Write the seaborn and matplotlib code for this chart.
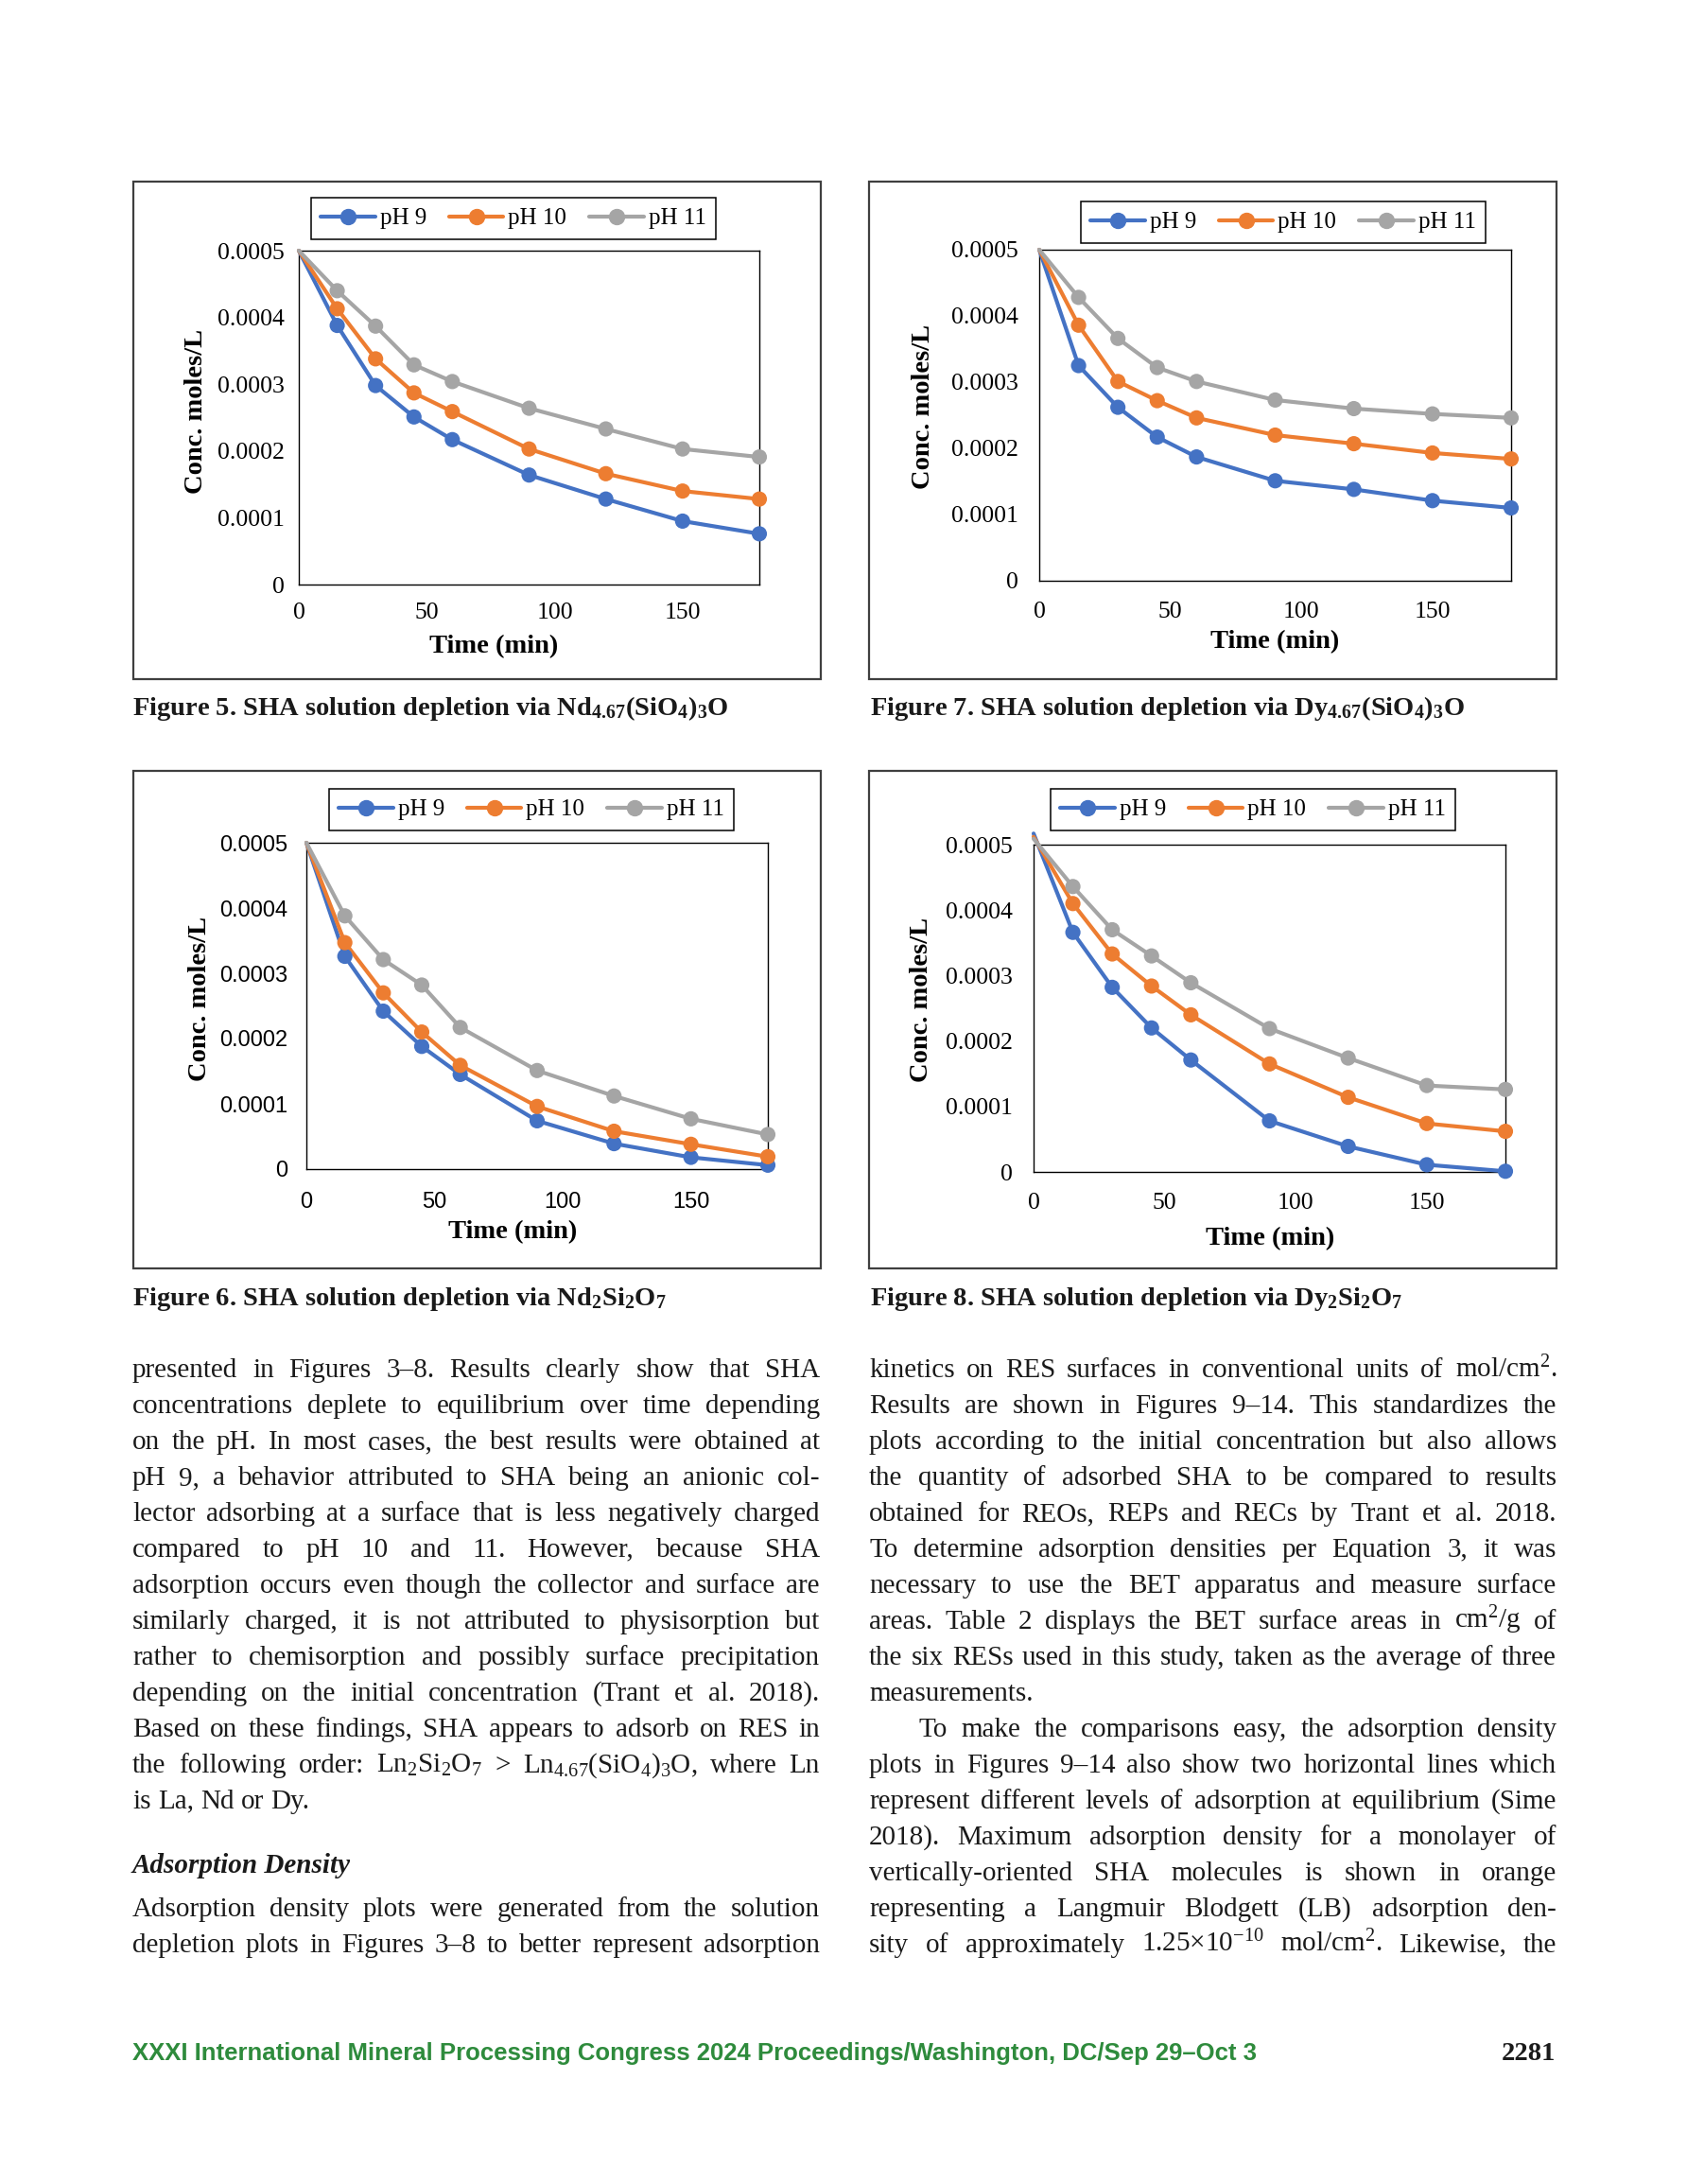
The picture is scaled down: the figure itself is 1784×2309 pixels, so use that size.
import numpy as np
import pandas as pd
import seaborn as sns
import matplotlib.pyplot as plt
from matplotlib.patches import Rectangle
from matplotlib.lines import Line2D

sns.set_theme(style='white')
plt.rcParams['font.family'] = ['Liberation Serif', 'DejaVu Serif']
plt.rcParams['mathtext.fontset'] = 'custom'
plt.rcParams['mathtext.rm'] = 'Liberation Serif'
plt.rcParams['mathtext.it'] = 'Liberation Serif:italic'
plt.rcParams['mathtext.bf'] = 'Liberation Serif:bold'

# ---- data ----
time_min = [0, 15, 30, 45, 60, 90, 120, 150, 180]
ph_labels = ['pH 9', 'pH 10', 'pH 11']
ph_colors = ['#4472C4', '#ED7D31', '#A5A5A5']

# Figure 5 - Nd4.67(SiO4)3O
fig5_ph9 = [0.0005, 0.000388, 0.000298, 0.000251, 0.000217, 0.000164, 0.000128, 0.000095, 0.000076]
fig5_ph10 = [0.0005, 0.000413, 0.000338, 0.000287, 0.000259, 0.000203, 0.000166, 0.000140, 0.000128]
fig5_ph11 = [0.0005, 0.000440, 0.000387, 0.000329, 0.000304, 0.000264, 0.000233, 0.000203, 0.000191]

# Figure 7 - Dy4.67(SiO4)3O
fig7_ph9 = [0.0005, 0.000325, 0.000262, 0.000217, 0.000187, 0.000151, 0.000138, 0.000121, 0.000110]
fig7_ph10 = [0.0005, 0.000386, 0.000301, 0.000272, 0.000246, 0.000220, 0.000207, 0.000193, 0.000184]
fig7_ph11 = [0.0005, 0.000428, 0.000366, 0.000322, 0.000301, 0.000273, 0.000260, 0.000252, 0.000246]

# Figure 6 - Nd2Si2O7
fig6_ph9 = [0.0005, 0.000326, 0.000242, 0.000188, 0.000145, 0.000074, 0.000039, 0.000018, 0.000006]
fig6_ph10 = [0.0005, 0.000347, 0.000270, 0.000210, 0.000159, 0.000096, 0.000058, 0.000038, 0.000019]
fig6_ph11 = [0.0005, 0.000388, 0.000321, 0.000282, 0.000217, 0.000151, 0.000112, 0.000077, 0.000053]

# Figure 8 - Dy2Si2O7
fig8_ph9 = [0.000517, 0.000366, 0.000282, 0.000220, 0.000171, 0.000078, 0.000039, 0.000011, 0.000001]
fig8_ph10 = [0.000512, 0.000410, 0.000333, 0.000284, 0.000240, 0.000165, 0.000114, 0.000074, 0.000062]
fig8_ph11 = [0.000509, 0.000436, 0.000370, 0.000330, 0.000289, 0.000219, 0.000174, 0.000132, 0.000126]

x_ticks = [0, 50, 100, 150]
y_ticks = [0, 0.0001, 0.0002, 0.0003, 0.0004, 0.0005]
y_ticklabels = ['0', '0.0001', '0.0002', '0.0003', '0.0004', '0.0005']

captions = {
    '5': r'Figure 5. SHA solution depletion via Nd$_{\mathbf{4.67}}$(SiO$_{\mathbf{4}}$)$_{\mathbf{3}}$O',
    '7': r'Figure 7. SHA solution depletion via Dy$_{\mathbf{4.67}}$(SiO$_{\mathbf{4}}$)$_{\mathbf{3}}$O',
    '6': r'Figure 6. SHA solution depletion via Nd$_{\mathbf{2}}$Si$_{\mathbf{2}}$O$_{\mathbf{7}}$',
    '8': r'Figure 8. SHA solution depletion via Dy$_{\mathbf{2}}$Si$_{\mathbf{2}}$O$_{\mathbf{7}}$',
}

left_lines = [
    'presented in Figures 3–8. Results clearly show that SHA',
    'concentrations deplete to equilibrium over time depending',
    'on the pH. In most cases, the best results were obtained at',
    'pH 9, a behavior attributed to SHA being an anionic col-',
    'lector adsorbing at a surface that is less negatively charged',
    'compared to pH 10 and 11. However, because SHA',
    'adsorption occurs even though the collector and surface are',
    'similarly charged, it is not attributed to physisorption but',
    'rather to chemisorption and possibly surface precipitation',
    'depending on the initial concentration (Trant et al. 2018).',
    'Based on these findings, SHA appears to adsorb on RES in',
    r'the following order: Ln$_{2}$Si$_{2}$O$_{7}$ > Ln$_{4.67}$(SiO$_{4}$)$_{3}$O, where Ln',
    'is La, Nd or Dy.',
]
left_lines2 = [
    'Adsorption density plots were generated from the solution',
    'depletion plots in Figures 3–8 to better represent adsorption',
]
right_lines = [
    r'kinetics on RES surfaces in conventional units of mol/cm$^{2}$.',
    'Results are shown in Figures 9–14. This standardizes the',
    'plots according to the initial concentration but also allows',
    'the quantity of adsorbed SHA to be compared to results',
    'obtained for REOs, REPs and RECs by Trant et al. 2018.',
    'To determine adsorption densities per Equation 3, it was',
    'necessary to use the BET apparatus and measure surface',
    r'areas. Table 2 displays the BET surface areas in cm$^{2}$/g of',
    'the six RESs used in this study, taken as the average of three',
    'measurements.',
    'To make the comparisons easy, the adsorption density',
    'plots in Figures 9–14 also show two horizontal lines which',
    'represent different levels of adsorption at equilibrium (Sime',
    '2018). Maximum adsorption density for a monolayer of',
    'vertically-oriented SHA molecules is shown in orange',
    'representing a Langmuir Blodgett (LB) adsorption den-',
    r'sity of approximately 1.25×10$^{-10}$ mol/cm$^{2}$. Likewise, the',
]
left_last = {12}
right_last = {9}
right_indent = {10}

# ---- page layout (pixels on a 1784 x 2309 page) ----
W, H = 1784, 2309
fig = plt.figure(figsize=(W / 100, H / 100), dpi=100)
fig.patch.set_facecolor('white')


def fy(y):
    return 1 - y / H


charts = [
    dict(key='5', series=[fig5_ph9, fig5_ph10, fig5_ph11], box=(141, 192, 868, 718),
         plot=(316, 265, 803, 618), legend=(543, 231), ylab=(-0.222, 0.518), xlab=(0.423, -0.187),
         tickfont='Liberation Serif', tsize=18.5, ypad=11, xpad=14, cap_y=756),
    dict(key='7', series=[fig7_ph9, fig7_ph10, fig7_ph11], box=(919, 192, 1646, 718),
         plot=(1099, 264, 1598, 614), legend=(1357, 235), ylab=(-0.246, 0.526), xlab=(0.499, -0.186),
         tickfont='Liberation Serif', tsize=18.5, ypad=16, xpad=16, cap_y=756),
    dict(key='6', series=[fig6_ph9, fig6_ph10, fig6_ph11], box=(141, 815, 868, 1341),
         plot=(324, 891, 812, 1236), legend=(562, 856), ylab=(-0.230, 0.522), xlab=(0.447, -0.194),
         tickfont='Liberation Sans', tsize=17, ypad=14, xpad=17, cap_y=1380),
    dict(key='8', series=[fig8_ph9, fig8_ph10, fig8_ph11], box=(919, 815, 1646, 1341),
         plot=(1093, 893, 1592, 1239), legend=(1325, 856), ylab=(-0.238, 0.526), xlab=(0.501, -0.205),
         tickfont='Liberation Serif', tsize=18.5, ypad=16, xpad=16, cap_y=1380),
]

palette = dict(zip(ph_labels, ph_colors))

for c in charts:
    rows = []
    for lab, vals in zip(ph_labels, c['series']):
        for t, v in zip(time_min, vals):
            rows.append((t, v, lab))
    df = pd.DataFrame(rows, columns=['time', 'conc', 'ph'])

    x0, y0, x1, y1 = c['plot']
    ax = fig.add_axes([x0 / W, fy(y1), (x1 - x0) / W, (y1 - y0) / H])
    ax.set_facecolor('white')

    sns.lineplot(data=df, x='time', y='conc', hue='ph', hue_order=ph_labels, palette=palette,
                 linewidth=3.0, ax=ax, legend=False, clip_on=False, zorder=3)
    sns.scatterplot(data=df[df['time'] > 0], x='time', y='conc', hue='ph', hue_order=ph_labels,
                    palette=palette, s=135, linewidth=0, ax=ax, legend=False, clip_on=False, zorder=4)

    ax.set_xlim(0, 180)
    ax.set_ylim(0, 0.0005)
    ax.set_xticks(x_ticks)
    ax.set_xticklabels([str(t) for t in x_ticks], family=c['tickfont'], fontsize=c['tsize'])
    ax.set_yticks(y_ticks)
    ax.set_yticklabels(y_ticklabels, family=c['tickfont'], fontsize=c['tsize'])
    ax.tick_params(axis='y', length=0, pad=c['ypad'], colors='black')
    ax.tick_params(axis='x', length=0, pad=c['xpad'], colors='black')
    for sp in ax.spines.values():
        sp.set_visible(True)
        sp.set_color('black')
        sp.set_linewidth(1.0)
    ax.grid(False)

    ax.set_xlabel('Time (min)', fontsize=20.5, fontweight='bold', color='black', va='center')
    ax.set_ylabel('Conc. moles/L', fontsize=20.5, fontweight='bold', color='black', va='center')
    ax.xaxis.set_label_coords(*c['xlab'])
    ax.yaxis.set_label_coords(*c['ylab'])

    handles = [Line2D([0], [0], color=col, lw=3.0, marker='o', markersize=11.5) for col in ph_colors]
    lx, ly = c['legend']
    leg = ax.legend(handles, ph_labels, loc='center', bbox_to_anchor=(lx / W, fy(ly)),
                    bbox_transform=fig.transFigure, ncol=3, frameon=True, fancybox=False,
                    edgecolor='black', framealpha=1, fontsize=18, handlelength=2.3,
                    handletextpad=0.2, columnspacing=0.95, borderpad=0.42, borderaxespad=0)
    leg.get_frame().set_linewidth(1.1)
    for t in leg.get_texts():
        t.set_color('black')

    bx0, by0, bx1, by1 = c['box']
    fig.add_artist(Rectangle((bx0 / W, fy(by1)), (bx1 - bx0) / W, (by1 - by0) / H,
                             transform=fig.transFigure, fill=False, edgecolor='#3f3f3f', lw=1.6))

    cap_x = 140 if bx0 < 500 else 920
    fig.text(cap_x / W, fy(c['cap_y']), captions[c['key']], fontsize=20.5, fontweight='bold',
             color='#1a1a1a', va='baseline', ha='left')

# ---- body text, justified word by word ----
renderer = fig.canvas.get_renderer()
col_w = 727
line_gap = 37.97

# pick the largest size (up to 21pt) at which every justified line still fits the column
probe_size = 20
widest = 0
for i, line in enumerate(left_lines + left_lines2 + right_lines):
    t = fig.text(0, 0, line, fontsize=probe_size)
    widest = max(widest, t.get_window_extent(renderer).width)
    t.remove()
body_size = min(21.0, probe_size * col_w * 0.985 / widest)
space_px = 0.25 * body_size * 100 / 72


def put_line(x0, yb, text, width, justify=True, **kw):
    words = text.split(' ')
    arts = [fig.text(0, 0, w, fontsize=body_size, color='#1a1a1a', va='baseline', ha='left', **kw)
            for w in words]
    widths = [a.get_window_extent(renderer).width for a in arts]
    if justify and len(words) > 1:
        gap = (width - sum(widths)) / (len(words) - 1)
    else:
        gap = space_px
    x = x0
    for a, w in zip(arts, widths):
        a.set_position((x / W, fy(yb)))
        x += w + gap


base_y = 1456
for i, line in enumerate(left_lines):
    put_line(140, base_y + i * line_gap, line, col_w, justify=i not in left_last)

fig.text(140 / W, fy(1980), 'Adsorption Density', fontsize=body_size, fontweight='bold',
         fontstyle='italic', color='#1a1a1a', va='baseline', ha='left')
for i, line in enumerate(left_lines2):
    put_line(140, base_y + (15 + i) * line_gap, line, col_w, justify=True)

for i, line in enumerate(right_lines):
    indent = 53 if i in right_indent else 0
    put_line(919 + indent, base_y + i * line_gap, line, col_w - indent, justify=i not in right_last)

# ---- footer ----
fig.text(140 / W, fy(2178),
         'XXXI International Mineral Processing Congress 2024 Proceedings/Washington, DC/Sep 29–Oct 3',
         family=['Liberation Sans', 'DejaVu Sans'], fontsize=18.5, fontweight='bold', color='#2e8b3c',
         va='baseline', ha='left')
fig.text(1645 / W, fy(2178), '2281', fontsize=20.5, fontweight='bold', color='#1a1a1a',
         va='baseline', ha='right')

fig.savefig('out.png', dpi=100, facecolor='white')
